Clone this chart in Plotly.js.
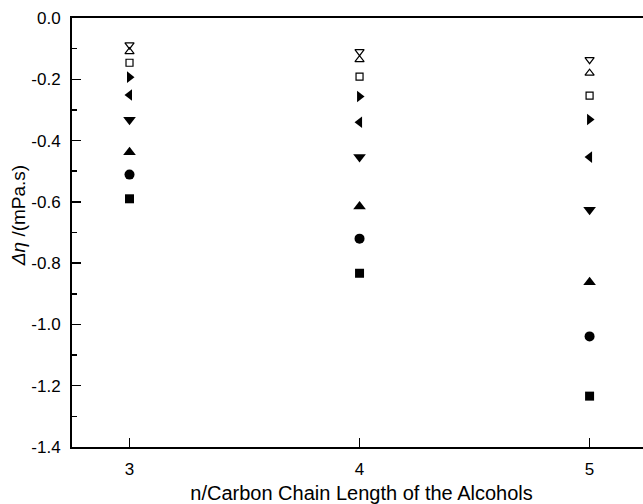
<!DOCTYPE html>
<html>
<head>
<meta charset="utf-8">
<script src="https://cdn.plot.ly/plotly-3.0.1.min.js"></script>
<style>
html,body{margin:0;padding:0;overflow:hidden;background:#fff;}
#chart{width:651px;height:504px;}
</style>
</head>
<body>
<div id="chart"></div>
<script>
// Carbon chain length of the alcohols
const chainLength = [3, 4, 5];

// Viscosity deviation series (mPa.s), one per marker symbol
const seriesOpenDown  = [-0.088, -0.110, -0.136];
const seriesOpenUp    = [-0.110, -0.136, -0.180];
const seriesOpenSq    = [-0.146, -0.191, -0.253];
const seriesRight     = [-0.193, -0.256, -0.331];
const seriesLeft      = [-0.251, -0.340, -0.454];
const seriesDown      = [-0.332, -0.454, -0.626];
const seriesUp        = [-0.438, -0.615, -0.862];
const seriesCircle    = [-0.511, -0.720, -1.039];
const seriesSquare    = [-0.590, -0.833, -1.234];

const yTickVals = [0, -0.2, -0.4, -0.6, -0.8, -1.0, -1.2, -1.4];
const yTickText = ['0.0', '-0.2', '-0.4', '-0.6', '-0.8', '-1.0', '-1.2', '-1.4'];
const xTickVals = [3, 4, 5];
const xTickText = ['3', '4', '5'];

const FONT = 'Arial, "Liberation Sans", sans-serif';

function series(name, y, symbol, size, open) {
  return {
    type: 'scatter', mode: 'markers', name: name,
    x: chainLength, y: y,
    marker: {
      symbol: symbol, size: size, color: '#000',
      line: {color: '#000', width: open ? 1.2 : 0}
    },
    showlegend: false, cliponaxis: false
  };
}

const data = [
  series('S9', seriesOpenDown, 'triangle-down-open', 8, true),
  series('S8', seriesOpenUp, 'triangle-up-open', 8, true),
  series('S7', seriesOpenSq, 'square-open', 7, true),
  series('S6', seriesRight, 'triangle-right', 10, false),
  series('S5', seriesLeft, 'triangle-left', 10, false),
  series('S4', seriesDown, 'triangle-down', 11, false),
  series('S3', seriesUp, 'triangle-up', 11, false),
  series('S2', seriesCircle, 'circle', 10, false),
  series('S1', seriesSquare, 'square', 9, false)
];

const layout = {
  width: 651, height: 504,
  margin: {l: 72, r: 0, t: 18, b: 57},
  paper_bgcolor: '#fff', plot_bgcolor: '#fff',
  font: {family: FONT, color: '#000', size: 16},
  xaxis: {
    range: [2.75, 5.267],
    tickvals: xTickVals, ticktext: xTickText,
    ticks: 'inside', ticklen: 9, tickwidth: 1.5, tickcolor: '#000',
    showline: true, linecolor: '#000', linewidth: 2, mirror: true,
    showgrid: false, zeroline: false,
    tickfont: {family: FONT, size: 17, color: '#000'},
    ticklabelstandoff: 6,
    title: {text: 'n/Carbon Chain Length of the Alcohols', font: {family: FONT, size: 20, color: '#000'}, standoff: 11}
  },
  yaxis: {
    range: [-1.4, 0],
    tickvals: yTickVals, ticktext: yTickText,
    ticks: 'inside', ticklen: 9, tickwidth: 1.5, tickcolor: '#000',
    minor: {dtick: 0.1, ticks: 'inside', ticklen: 5, tickwidth: 1.5, tickcolor: '#000', showgrid: false},
    showline: true, linecolor: '#000', linewidth: 2, mirror: false,
    showgrid: false, zeroline: false,
    tickfont: {family: FONT, size: 17, color: '#000'},
    ticklabelstandoff: 6
  },
  annotations: [{
    text: '<i>Δη</i> /(mPa.s)',
    xref: 'paper', yref: 'paper', x: 0, y: 0.538,
    xshift: -54, xanchor: 'center', yanchor: 'middle',
    textangle: -90, showarrow: false,
    font: {family: FONT, size: 19, color: '#000'}
  }]
};

Plotly.newPlot('chart', data, layout, {displayModeBar: false, staticPlot: true});
</script>
</body>
</html>
